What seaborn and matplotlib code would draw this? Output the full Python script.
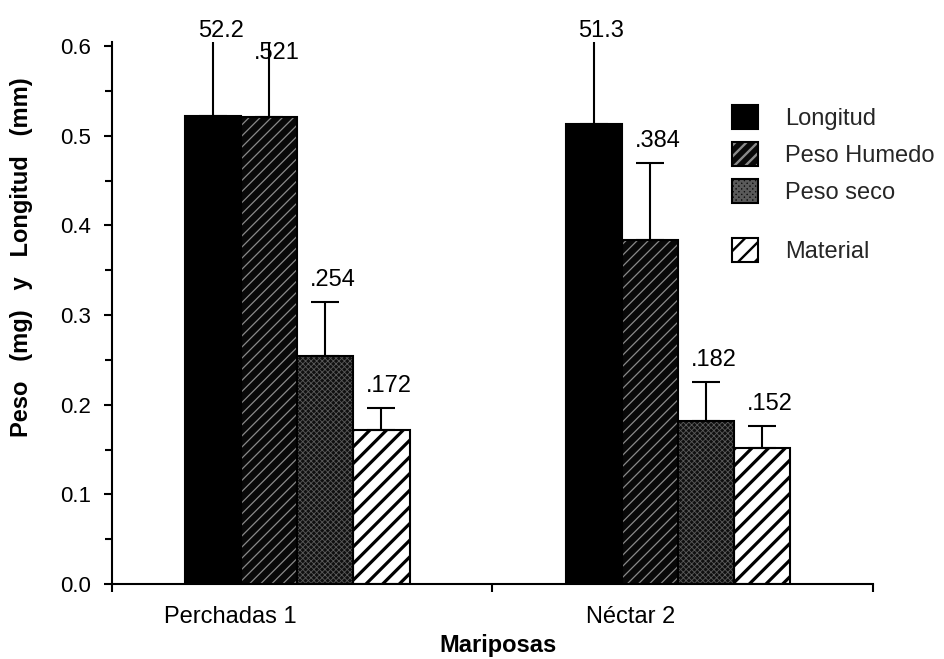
import numpy as np
import pandas as pd
import matplotlib
matplotlib.use("Agg")
import matplotlib.pyplot as plt
import seaborn as sns
from matplotlib.patches import Patch, Rectangle

# ---------------- data ----------------
groups = ["Perchadas 1", "Néctar 2"]
series = ["Longitud", "Peso Humedo", "Peso seco", "Material"]
longitud = [0.522, 0.513]
peso_humedo = [0.521, 0.384]
peso_seco = [0.254, 0.182]
material = [0.172, 0.152]
err_longitud = [0.10, 0.11]
err_peso_humedo = [0.09, 0.085]
err_peso_seco = [0.060, 0.043]
err_material = [0.024, 0.024]
yticks = [0.0, 0.1, 0.2, 0.3, 0.4, 0.5, 0.6]
ytick_labels = ["0.0", "0.1", "0.2", "0.3", "0.4", "0.5", "0.6"]
xlabel = "Mariposas"
ylabel = "Peso   (mg)   y   Longitud   (mm)"

values = [longitud, peso_humedo, peso_seco, material]
errors = [err_longitud, err_peso_humedo, err_peso_seco, err_material]

# ---------------- style ----------------
sns.set_theme(style="ticks")
plt.rcParams["font.family"] = ["Liberation Sans", "DejaVu Sans"]
plt.rcParams["hatch.linewidth"] = 1.7
plt.rcParams["axes.edgecolor"] = "black"

styles = {
    "Longitud":    dict(face="black",   hatch=None,     hcolor="black",   hlw=1.7),
    "Peso Humedo": dict(face="#080808", hatch="///",    hcolor="#8a8a8a", hlw=0.9),
    "Peso seco":   dict(face="#101010", hatch="xxxxxx", hcolor="#5a5a5a", hlw=0.6),
    "Material":    dict(face="white",   hatch="//",     hcolor="black",   hlw=2.3),
}

df = pd.DataFrame({
    "grupo": groups * len(series),
    "serie": np.repeat(series, len(groups)),
    "valor": np.concatenate(values),
})

fig = plt.figure(figsize=(9.45, 6.59), dpi=100)
ax = fig.add_axes([0.1185, 0.1138, 0.8053, 0.8225])

sns.barplot(data=df, x="grupo", y="valor", hue="serie", order=groups,
            hue_order=series, palette={s: styles[s]["face"] for s in series},
            width=0.59, gap=0, errorbar=None, legend=False, saturation=1,
            ax=ax)

ax.set_ylim(0, 0.6045)
ax.set_xlim(-0.487, 1.513)


def style_patch(p, st):
    p.set_facecolor(st["face"])
    p.set_edgecolor(st["hcolor"])
    p.set_linewidth(0)
    if st["hatch"]:
        p.set_hatch(st["hatch"])
        if hasattr(p, "set_hatch_linewidth"):
            p.set_hatch_linewidth(st["hlw"])


bars = sorted(ax.patches, key=lambda p: p.get_x())
ytop = ax.get_ylim()[1]
for i, p in enumerate(bars):
    g, s = divmod(i, len(series))
    st = styles[series[s]]
    style_patch(p, st)
    ax.add_patch(Rectangle((p.get_x(), p.get_y()), p.get_width(), p.get_height(),
                           fill=False, edgecolor="black", linewidth=1.5, zorder=2.5))
    v = values[s][g]
    e = errors[s][g]
    xc = p.get_x() + p.get_width() / 2
    ax.errorbar([xc], [v], yerr=[[0], [e]], fmt="none", ecolor="black",
                elinewidth=1.5, capsize=10, capthick=1.5, zorder=3)
    txt = f"{v * 100:.1f}" if s == 0 else f"{v:.3f}".lstrip("0")
    if v + e > ytop:
        y = 0.61 if s == 0 else 0.585
    else:
        y = v + e + 0.018
    ax.text(xc + 0.02, y, txt, ha="center", va="baseline", fontsize=17,
            color="black", clip_on=False, zorder=4)

# ---------------- axes ----------------
sns.despine(ax=ax)
for sp in ("left", "bottom"):
    ax.spines[sp].set_linewidth(1.5)
    ax.spines[sp].set_color("black")

ax.set_yticks(yticks)
ax.set_yticklabels(ytick_labels)
ax.set_yticks(np.arange(0.05, 0.6, 0.1), minor=True)
ax.tick_params(axis="y", which="major", length=6, width=1.5, pad=9,
               labelsize=16, direction="out", colors="black")
ax.tick_params(axis="y", which="minor", length=5, width=1.5, direction="out",
               left=True, colors="black")

x0, x1 = ax.get_xlim()
ax.set_xticks([x0, (x0 + x1) / 2, x1])
ax.set_xticklabels(["", "", ""])
label_shift = [-0.177, -0.124]
ax.set_xticks([i + d for i, d in enumerate(label_shift)], minor=True)
ax.set_xticklabels(groups, minor=True)
ax.tick_params(axis="x", which="major", length=6, width=1.5, direction="out",
               colors="black")
ax.tick_params(axis="x", which="minor", length=0, pad=16, labelsize=17,
               colors="black")

ax.set_xlabel(xlabel, fontsize=17, fontweight="bold", color="black")
ax.xaxis.set_label_coords(0.507, -0.092)
ax.set_ylabel(ylabel, fontsize=17, fontweight="bold", color="black")
ax.yaxis.set_label_coords(-0.104, 0.603)
ax.grid(False)

# ---------------- legend ----------------
handles = []
for s in series:
    st = styles[s]
    h1 = Patch(facecolor=st["face"], edgecolor=st["hcolor"], linewidth=0,
               hatch=st["hatch"])
    if st["hatch"] and hasattr(h1, "set_hatch_linewidth"):
        h1.set_hatch_linewidth(st["hlw"])
    h2 = Patch(fill=False, edgecolor="black", linewidth=1.5)
    handles.append((h1, h2))

leg_kw = dict(loc="upper left", bbox_transform=fig.transFigure, frameon=False,
              borderpad=0, borderaxespad=0, handlelength=1.10,
              handleheight=1.19, handletextpad=1.14, labelspacing=0.51,
              fontsize=17)
leg1 = ax.legend(handles[:3], series[:3], bbox_to_anchor=(0.7746, 0.8407), **leg_kw)
ax.add_artist(leg1)
ax.legend(handles[3:], series[3:], bbox_to_anchor=(0.7746, 0.6389), **leg_kw)

fig.savefig("out.png", dpi=100, facecolor="white")
